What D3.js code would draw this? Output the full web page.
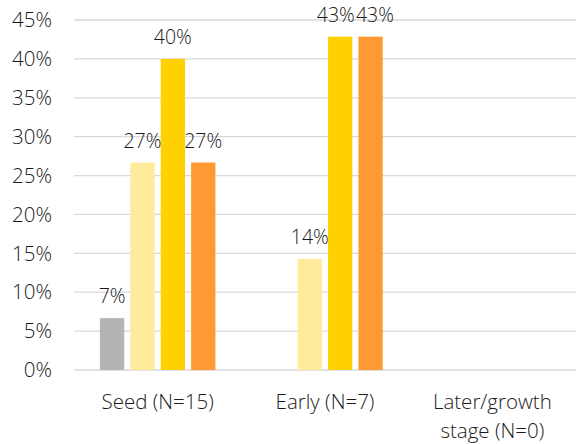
<!DOCTYPE html>
<html><head><meta charset="utf-8">
<script src="https://cdn.jsdelivr.net/npm/d3@7"></script>
<style>body{margin:0;background:#fff}svg{display:block}text{font-family:"Open Sans", sans-serif;font-weight:300;fill:#1a1a1a}</style>
</head><body><svg id="c" width="577" height="444"></svg>
<script>
const categories = ["Seed (N=15)", "Early (N=7)", "Later/growth stage (N=0)"];
const categoryLines = [["Seed (N=15)"], ["Early (N=7)"], ["Later/growth", "stage (N=0)"]];
const seriesNames = ["S1", "S2", "S3", "S4"];
const seriesColors = ["#b4b4b4", "#ffeb9c", "#ffd100", "#ff9933"];
const seedValues = [0.0667, 0.2667, 0.40, 0.2667];
const earlyValues = [null, 0.1429, 0.4286, 0.4286];
const laterValues = [null, null, null, null];
const yTicks = [0, 0.05, 0.10, 0.15, 0.20, 0.25, 0.30, 0.35, 0.40, 0.45];

const allValues = [seedValues, earlyValues, laterValues];
const svg = d3.select("#c");
const m = {l: 74, r: 1, t: 20, b: 74};
const W = 577, H = 444;
const FS = 20.5, LFS = 19.5;
const x0 = d3.scaleBand().domain(categories).range([m.l, W - m.r]).paddingInner(0.31).paddingOuter(0.155);
const x1 = d3.scaleBand().domain(seriesNames).range([0, x0.bandwidth()]).paddingInner(0.2);
const y = d3.scaleLinear().domain([0, 0.45]).range([H - m.b, m.t]);

svg.append("g").selectAll("line").data(yTicks).join("line")
  .attr("x1", m.l).attr("x2", W - m.r)
  .attr("y1", d => y(d)).attr("y2", d => y(d))
  .attr("stroke", "#d9d9d9").attr("stroke-width", 1.3);

svg.append("g").selectAll("text").data(yTicks).join("text")
  .attr("x", 52).attr("y", d => y(d)).attr("dy", "0.35em")
  .attr("text-anchor", "end").attr("font-size", FS)
  .text(d => d3.format(".0%")(d));

const groups = svg.append("g").selectAll("g").data(categories).join("g")
  .attr("transform", d => `translate(${x0(d)},0)`);
groups.each(function(cat, ci) {
  const vals = allValues[ci].map((v, i) => ({s: seriesNames[i], v, c: seriesColors[i]})).filter(d => d.v != null);
  const g = d3.select(this);
  g.selectAll("rect").data(vals).join("rect")
    .attr("x", d => x1(d.s)).attr("width", x1.bandwidth())
    .attr("y", d => y(d.v)).attr("height", d => y(0) - y(d.v))
    .attr("fill", d => d.c);
  const labels = g.selectAll("text").data(vals).join("text")
    .attr("x", d => x1(d.s) + x1.bandwidth() / 2).attr("y", d => y(d.v) - 15)
    .attr("text-anchor", "middle").attr("font-size", LFS)
    .text(d => d3.format(".0%")(d.v));
  // push apart labels that collide
  const nodes = labels.nodes();
  for (let i = 1; i < nodes.length; i++) {
    const a = nodes[i - 1].getBBox(), b = nodes[i].getBBox();
    const vOverlap = a.y < b.y + b.height && b.y < a.y + a.height;
    const over = a.x + a.width - b.x + 1;
    if (vOverlap && over > 0) {
      d3.select(nodes[i - 1]).attr("x", +nodes[i - 1].getAttribute("x") - over / 2);
      d3.select(nodes[i]).attr("x", +nodes[i].getAttribute("x") + over / 2);
    }
  }
});

svg.append("g").selectAll("text").data(categories).join("text")
  .attr("text-anchor", "middle")
  .attr("transform", d => `translate(${x0(d) + x0.bandwidth() / 2},0)`)
  .attr("font-size", FS)
  .each(function(d, i) {
    d3.select(this).selectAll("tspan").data(categoryLines[i]).join("tspan")
      .attr("x", 0).attr("y", (t, j) => 409 + j * 29).text(t => t);
  });
</script></body></html>
